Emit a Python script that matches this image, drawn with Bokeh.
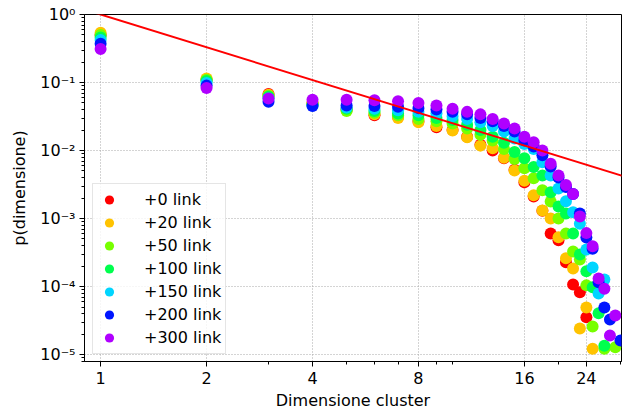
import math
from bokeh.plotting import figure
from bokeh.models import ColumnDataSource, FixedTicker, Legend, LegendItem, Range1d
from bokeh.embed import file_html
from bokeh.resources import INLINE

nan = float("nan")

series_labels = ["+0 link", "+20 link", "+50 link", "+100 link", "+150 link", "+200 link", "+300 link"]
series_colors = ["#ff0000", "#ffc300", "#77ff00", "#00ff4e", "#00d5ff", "#0016ff", "#b000ff"]

p_link0 = [0.50, 0.11, 0.068, 0.050, 0.040, 0.033, 0.031, 0.027, 0.022, 0.020, 0.016, 0.0122, 0.0100,
           0.0077, 0.0052, 0.0034, 0.0021, 0.0013, 0.0006, 0.00048, 0.000228, 0.000107, 0.0000825, 0.0000354]
p_link20 = [0.54, 0.115, 0.066, 0.049, 0.039, 0.034, 0.030, 0.026, 0.023, 0.0197, 0.0157, 0.0118, 0.0108,
            0.0078, 0.0051, 0.0036, 0.0022, 0.00131, 0.001, 0.00053, 0.00026, 0.000184, 0.0000241,
            0.0000491, 0.0000122]
p_link50 = [0.50, 0.11, 0.064, 0.048, 0.038, 0.036, 0.033, 0.029, 0.027, 0.025, 0.021, 0.017, 0.014,
            0.0105, 0.0075, 0.0055, 0.0039, 0.0026, 0.00178, 0.001, 0.0006, 0.000327, 0.00025, 0.000104,
            0.0000258, nan, 0.0000122, nan, 0.0000128]
p_link100 = [0.46, 0.105, 0.062, 0.047, 0.041, 0.038, 0.035, 0.033, 0.030, 0.028, 0.024, 0.020, 0.016,
             0.013, 0.0095, 0.0077, 0.0057, 0.0043, 0.00244, 0.0015, 0.00119, 0.0006, 0.000295, 0.000168,
             0.0000977, 0.0000405, 0.0000135]
p_link150 = [0.42, 0.098, 0.058, 0.046, 0.043, 0.041, 0.039, 0.037, 0.035, 0.032, 0.029, 0.026, 0.023,
             0.019, 0.015, 0.0125, 0.0105, 0.0067, 0.0043, 0.00276, 0.0018, 0.00124, 0.00084, 0.00035,
             0.00019, 0.0000789, 0.000127]
p_link200 = [0.37, 0.09, 0.052, 0.045, 0.046, 0.045, 0.044, 0.042, 0.040, 0.037, 0.034, 0.030, 0.027,
             0.023, 0.019, 0.014, 0.0115, 0.0085, 0.0058, 0.0040, 0.0029, 0.0023, 0.00119, 0.000525,
             0.00036, 0.000116, 0.0000491, 0.0000327, nan, 0.0000161]
p_link300 = [0.31, 0.083, 0.058, 0.056, 0.056, 0.055, 0.053, 0.050, 0.046, 0.041, 0.037, 0.034, 0.029,
             0.025, 0.021, 0.016, 0.0132, 0.010, 0.0064, 0.0043, 0.0031, 0.0023, 0.00107, 0.00061,
             0.00039, 0.000131, 0.0000925, 0.000019, 0.0000375]

all_series = [p_link0, p_link20, p_link50, p_link100, p_link150, p_link200, p_link300]

# power-law reference line
fit_amplitude = 1.0
fit_exponent = -1.6
fit_x = [0.9, 31.0]

x_ticks = [1, 2, 4, 8, 16, 24]
x_tick_labels = ["1", "2", "4", "8", "16", "24"]
x_minor = [3, 5, 6, 7, 9, 10, 20, 30]
y_ticks = [1e-5, 1e-4, 1e-3, 1e-2, 1e-1, 1.0]
y_tick_labels = ["10\u207b\u2075", "10\u207b\u2074", "10\u207b\u00b3", "10\u207b\u00b2", "10\u207b\u00b9", "10\u2070"]
y_minor = [m * 10.0 ** e for e in range(-6, 0) for m in range(2, 10)]

FONT = "DejaVu Sans"
FS = "16px"

p = figure(width=624, height=412, x_axis_type="log", y_axis_type="log",
           x_range=Range1d(0.9, 30.2), y_range=Range1d(7.9e-6, 1.0),
           output_backend="svg", toolbar_location=None,
           min_border_left=84, min_border_right=3, min_border_top=14, min_border_bottom=51)
p.outline_line_color = "black"
p.outline_line_width = 1
p.background_fill_color = "white"
p.border_fill_color = "white"

renderers = []
for vals, col, lab in zip(all_series, series_colors, series_labels):
    xs = [i + 1 for i, v in enumerate(vals) if not math.isnan(v)]
    ys = [v for v in vals if not math.isnan(v)]
    src = ColumnDataSource(dict(x=xs, y=ys))
    r = p.scatter("x", "y", source=src, size=12, fill_color=col, line_color=None)
    renderers.append((lab, r))

line_y = [fit_amplitude * xv ** fit_exponent for xv in fit_x]
p.line(fit_x, line_y, line_color="#ff0000", line_width=2)

# axes
p.xaxis.ticker = FixedTicker(ticks=x_ticks, minor_ticks=x_minor)
p.xaxis.major_label_overrides = {t: l for t, l in zip(x_ticks, x_tick_labels)}
p.yaxis.ticker = FixedTicker(ticks=y_ticks, minor_ticks=y_minor)
p.yaxis.major_label_overrides = {t: l for t, l in zip(y_ticks, y_tick_labels)}
for ax in (p.xaxis, p.yaxis):
    ax.major_label_text_font = FONT
    ax.major_label_text_font_size = FS
    ax.major_label_text_color = "black"
    ax.axis_label_text_font = FONT
    ax.axis_label_text_font_size = FS
    ax.axis_label_text_font_style = "normal"
    ax.axis_label_text_color = "black"
    ax.axis_line_color = "black"
    ax.major_tick_line_color = "black"
    ax.minor_tick_line_color = "black"
    ax.major_tick_out = 5
    ax.major_tick_in = 0
    ax.minor_tick_out = 3
    ax.minor_tick_in = 0
p.xaxis.axis_label = "Dimensione cluster"
p.yaxis.axis_label = "p(dimensione)"
p.xaxis.major_label_standoff = 5
p.yaxis.major_label_standoff = 4
p.xaxis.axis_label_standoff = 4
p.yaxis.axis_label_standoff = 8

for g in (p.xgrid, p.ygrid):
    g.grid_line_color = "#a8a8a8"
    g.grid_line_dash = "1 2"
    g.grid_line_width = 1
p.xgrid.ticker = FixedTicker(ticks=x_ticks)
p.ygrid.ticker = FixedTicker(ticks=y_ticks)

legend = Legend(items=[LegendItem(label=lab, renderers=[r]) for lab, r in renderers],
                location=(8, 7), margin=0, padding=4, spacing=0,
                glyph_width=24, glyph_height=23, label_height=23, label_standoff=23,
                label_text_font=FONT, label_text_font_size=FS, label_text_color="black",
                border_line_color="#cccccc", border_line_width=1,
                background_fill_color="white", background_fill_alpha=0.8)
p.add_layout(legend, "center")

open("out.html", "w").write(file_html(p, INLINE))
